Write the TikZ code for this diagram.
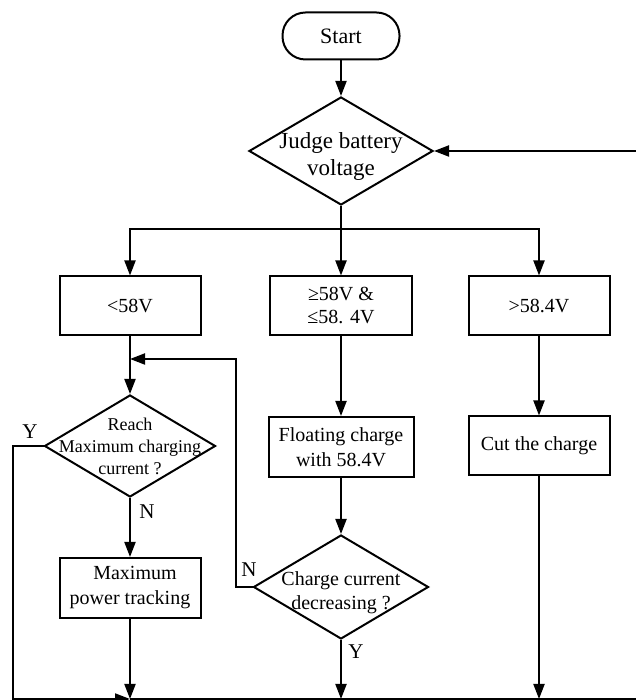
\documentclass[tikz,border=0pt]{standalone}
\usepackage{fontspec}
\setmainfont{Liberation Serif}
\usetikzlibrary{arrows.meta,shapes.geometric}

\tikzset{
  flow/.style={line width=2pt,-{Triangle[length=15pt,width=11pt]}},
  plain/.style={line width=2pt},
  procbox/.style={draw,line width=2pt,rectangle,minimum width=141pt,minimum height=59pt,
    inner sep=1pt,align=center,font=\fontsize{20}{25}\selectfont},
  decide/.style={draw,line width=2pt,diamond,inner sep=0pt},
  tag/.style={font=\fontsize{21}{24}\selectfont,inner sep=0pt}
}

\begin{document}
\begin{tikzpicture}[x=1pt,y=1pt]
\useasboundingbox (0,0) rectangle (635,700);

\node[procbox,rounded corners=23pt,minimum width=117pt,minimum height=47pt,font=\fontsize{22}{26}\selectfont] (start) at (341,664) {Start};
\node[decide,minimum width=184pt,minimum height=108pt,
  label={[align=center,font=\fontsize{23}{27}\selectfont,yshift=-6pt]center:Judge battery\\voltage}] (judge) at (341,549) {};
\node[procbox] (low) at (130,394) {<58V};
\node[procbox,minimum width=142pt] (mid) at (341,394) {≥58V \&\\[-2pt]≤58. 4V};
\node[procbox] (high) at (539,394) {>58.4V};
\node[decide,minimum width=171pt,minimum height=102pt,
  label={[align=center,font=\fontsize{18}{22}\selectfont]center:Reach\\Maximum charging\\current ?}] (reach) at (130,254) {};
\node[procbox,minimum height=60pt] (mppt) at (130,112) {\hspace*{10pt}Maximum\\power tracking};
\node[procbox,minimum width=145pt,minimum height=60pt] (float) at (341,253) {Floating charge\\with 58.4V};
\node[procbox,minimum height=59pt] (cut) at (539,254) {Cut the charge};
\node[decide,minimum width=175pt,minimum height=104pt,
  label={[align=center,font=\fontsize{20}{24}\selectfont,yshift=-6pt]center:Charge current\\decreasing ?}] (check) at (341,113) {};

\coordinate (split) at (341,471);
\coordinate (join) at (130,341);
\coordinate (nback) at (236,341);
\coordinate (yleft) at (13,254);
\coordinate (merge) at (130,1);
\coordinate (corner) at (13,1);
\coordinate (far) at (650,1);
\coordinate (farup) at (650,549);

\draw[flow] (start) -- (judge);
\draw[plain] (judge.south) -- (split);
\draw[flow] (split) -| (low.north);
\draw[flow] (split) -- (mid.north);
\draw[flow] (split) -| (high.north);
\draw[flow] (low) -- (reach.north);
\draw[flow] (reach.south) -- (mppt);
\draw[flow] (mppt) -- (merge);
\draw[flow] (mid) -- (float);
\draw[flow] (float) -- (check.north);
\draw[flow] (check.south) -- (341,1);
\draw[flow] (cut) -- (539,1);
\draw[flow] (high) -- (cut);
\draw[flow] (check.west) -| (nback) -- (join);
\draw[flow] (reach.west) -- (yleft) -- (corner) -- (merge);
\draw[flow] (merge) -- (far) -- (farup) -- (judge.east);

\node[tag] (yreach) at (30,268) {Y};
\node[tag] (nreach) at (147,188) {N};
\node[tag] (ncheck) at (249,130) {N};
\node[tag] (ycheck) at (356,48) {Y};
\end{tikzpicture}
\end{document}
